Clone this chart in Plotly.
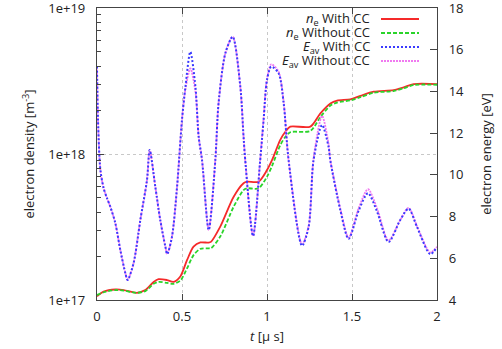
import plotly.graph_objects as go

# ---- data ----
t_ne = [0, 0.039, 0.108, 0.157, 0.235, 0.284, 0.333, 0.362, 0.412, 0.45, 0.49, 0.53,
        0.568, 0.608, 0.656, 0.67, 0.725, 0.804, 0.862, 0.882, 0.95, 1.0, 1.03, 1.078,
        1.108, 1.137, 1.255, 1.314, 1.373, 1.412, 1.49, 1.549, 1.627, 1.745, 1.804, 1.862, 2.0]
ne_with_cc = [1.06e17, 1.14e17, 1.18e17, 1.17e17, 1.12e17, 1.17e17, 1.33e17, 1.39e17, 1.37e17,
              1.33e17, 1.45e17, 1.88e17, 2.32e17, 2.48e17, 2.47e17, 2.50e17, 3.18e17, 5.10e17,
              6.31e17, 6.46e17, 6.46e17, 7.76e17, 9.10e17, 1.25e18, 1.42e18, 1.54e18, 1.54e18,
              1.90e18, 2.22e18, 2.32e18, 2.37e18, 2.50e18, 2.67e18, 2.74e18, 2.86e18, 3.01e18, 3.01e18]
ne_without_cc = [1.08e17, 1.13e17, 1.17e17, 1.16e17, 1.12e17, 1.15e17, 1.29e17, 1.33e17, 1.31e17,
                 1.29e17, 1.36e17, 1.65e17, 2.03e17, 2.24e17, 2.26e17, 2.26e17, 2.72e17, 4.36e17,
                 5.66e17, 5.82e17, 5.82e17, 7.00e17, 8.30e17, 1.15e18, 1.31e18, 1.41e18, 1.44e18,
                 1.79e18, 2.15e18, 2.25e18, 2.33e18, 2.45e18, 2.63e18, 2.70e18, 2.82e18, 2.97e18, 2.98e18]

t_e = [0, 0.006, 0.02, 0.039, 0.059, 0.078, 0.108, 0.137, 0.167, 0.18, 0.215, 0.255, 0.294,
       0.31, 0.343, 0.372, 0.402, 0.413, 0.441, 0.471, 0.5, 0.52, 0.549, 0.579, 0.598, 0.618,
       0.657, 0.696, 0.715, 0.755, 0.798, 0.843, 0.862, 0.872, 0.918, 0.96, 0.98, 1.0, 1.025,
       1.068, 1.098, 1.127, 1.206, 1.245, 1.274, 1.324, 1.362, 1.372, 1.431, 1.48, 1.539,
       1.594, 1.647, 1.715, 1.784, 1.833, 1.882, 1.96, 2.0]
eav_with_cc = [15.2, 12.6, 10.23, 9.36, 8.88, 8.48, 7.68, 6.40, 5.28, 4.96, 5.76, 7.84, 9.75,
               11.19, 9.43, 7.84, 6.56, 6.2, 7.03, 9.43, 12.65, 14.2, 15.9, 14.23, 11.83, 10.7,
               7.36, 10.7, 13.43, 15.83, 16.62, 14.23, 11.83, 10.71, 7.07, 10.71, 12.63, 14.55, 15.19,
               14.87, 13.43, 10.71, 6.6, 7.51, 10.71, 12.39, 11.35, 10.71, 8.32, 6.93, 8.28,
               9.12, 8.25, 6.78, 7.84, 8.38, 7.51, 6.2, 6.53]
eav_without_cc = [15.2, 12.6, 10.23, 9.36, 8.88, 8.48, 7.68, 6.40, 5.28, 4.96, 5.76, 7.84, 9.75,
                  11.19, 9.43, 7.84, 6.56, 6.2, 7.03, 9.43, 12.65, 14.1, 15.1, 14.0, 11.83, 10.7,
                  7.36, 10.7, 13.43, 15.83, 16.62, 14.23, 11.83, 10.71, 7.07, 10.71, 12.7, 14.6, 15.3,
                  14.95, 13.5, 10.71, 6.68, 7.55, 10.8, 12.82, 11.5, 10.75, 8.4, 6.99, 8.4,
                  9.31, 8.4, 6.85, 7.84, 8.42, 7.55, 6.28, 6.55]

x_ticks = [0, 0.5, 1, 1.5, 2]
x_tick_labels = ["0", "0.5", "1", "1.5", "2"]
ne_ticks = [1e17, 1e18, 1e19]
ne_tick_labels = ["1e+17", "1e+18", "1e+19"]
ne_minor = [k * 1e17 for k in range(2, 10)] + [k * 1e18 for k in range(2, 10)]
e_ticks = [4, 6, 8, 10, 12, 14, 16, 18]

series_names = ["<i>n</i><sub>e</sub> With CC", "<i>n</i><sub>e</sub> Without CC",
                "<i>E</i><sub>av</sub> With CC", "<i>E</i><sub>av</sub> Without CC"]
colors = ["#f52a2a", "#2ad42a", "#3a3aff", "#f07af0"]
dashes = ["solid", "4px,2px", "2px,2px", "2px,1px"]

FONT = "Open Sans"
fig = go.Figure()

fig.add_trace(go.Scatter(x=t_e, y=eav_without_cc, yaxis="y2", mode="lines", name=series_names[3],
                         line=dict(color=colors[3], width=1.8, dash=dashes[3], shape="spline", smoothing=0.8)))
fig.add_trace(go.Scatter(x=t_e, y=eav_with_cc, yaxis="y2", mode="lines", name=series_names[2],
                         line=dict(color=colors[2], width=2, dash=dashes[2], shape="spline", smoothing=0.8)))
fig.add_trace(go.Scatter(x=t_ne, y=ne_with_cc, yaxis="y", mode="lines", name=series_names[0],
                         line=dict(color=colors[0], width=1.8, dash=dashes[0], shape="spline", smoothing=0.8)))
fig.add_trace(go.Scatter(x=t_ne, y=ne_without_cc, yaxis="y", mode="lines", name=series_names[1],
                         line=dict(color=colors[1], width=1.8, dash=dashes[1], shape="spline", smoothing=0.8)))
# invisible trace that activates the minor-tick axis
fig.add_trace(go.Scatter(x=[None], y=[None], yaxis="y3", showlegend=False, hoverinfo="skip"))

axis_col = "#444444"
grid_col = "#c8c8c8"

fig.update_layout(
    width=502, height=349,
    margin=dict(l=97, r=65, t=8, b=49, autoexpand=False),
    paper_bgcolor="white", plot_bgcolor="white",
    showlegend=False,
    font=dict(family=FONT, size=13, color="#222222"),
    xaxis=dict(range=[0, 2], tickvals=x_ticks, ticktext=x_tick_labels, automargin=False,
               ticks="inside", ticklen=6, tickcolor=axis_col, showline=True, linecolor=axis_col,
               linewidth=1.2, mirror="ticks", showgrid=True, gridcolor=grid_col, griddash="dot",
               gridwidth=1, zeroline=False, ticklabelstandoff=4, ticklabeloverflow="allow",
               title=dict(text="<i>t</i> [μ s]", font=dict(size=13), standoff=8)),
    yaxis=dict(type="log", range=[16.99999, 19.00001], tickvals=ne_ticks, ticktext=ne_tick_labels,
               automargin=False, ticklabeloverflow="allow",
               ticks="inside", ticklen=7, tickcolor=axis_col, showline=True, linecolor=axis_col,
               linewidth=1.2, showgrid=True, gridcolor=grid_col, griddash="dot", zeroline=False,
               ticklabelstandoff=8,
               title=dict(text="electron density [m<sup>-3</sup>]", font=dict(size=13), standoff=10)),
    yaxis3=dict(type="log", range=[16.99999, 19.00001], overlaying="y", side="left", tickvals=ne_minor,
                automargin=False,
                ticks="inside", ticklen=4, tickcolor=axis_col, showticklabels=False,
                showgrid=False, showline=False, zeroline=False),
    yaxis2=dict(range=[3.9999, 18.0001], tickvals=e_ticks, overlaying="y", side="right",
                automargin=False, ticklabeloverflow="allow",
                ticks="inside", ticklen=7, tickcolor=axis_col, showline=True, linecolor=axis_col,
                linewidth=1.2, showgrid=False, zeroline=False, ticklabelstandoff=8,
                title=dict(text="electron energy [eV]", font=dict(size=13), standoff=18)),
)

# legend drawn gnuplot-style: right-aligned text, sample line on the right
leg_y = [19, 33, 47, 61]
for name, col, dsh, yy in zip(series_names, colors, dashes, leg_y):
    yp = 1 - (yy - 8) / 292
    fig.add_annotation(xref="paper", yref="paper", x=(372 - 97) / 340, y=yp, text=name,
                       showarrow=False, xanchor="right", yanchor="middle",
                       font=dict(family=FONT, size=13, color="#222222"))
    fig.add_shape(type="line", xref="paper", yref="paper",
                  x0=(381 - 97) / 340, x1=(419 - 97) / 340, y0=yp, y1=yp,
                  line=dict(color=col, width=1.8, dash=dsh))

fig.write_html("out.html", config={"displayModeBar": False},
               post_script="document.body.style.margin='0';document.body.style.padding='0';")
